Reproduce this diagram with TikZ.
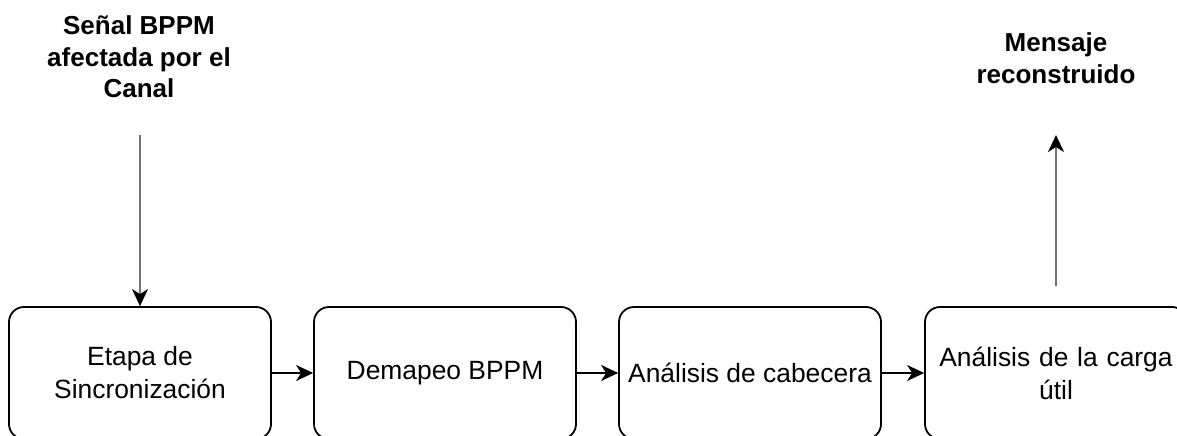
\documentclass[tikz,border=0pt]{standalone}
\usepackage{fontspec}
\setmainfont{Liberation Sans}
\usetikzlibrary{arrows.meta}
\begin{document}
\begin{tikzpicture}[x=1pt,y=-1pt,
  stage/.style={draw=black, line width=1.8pt, rounded corners=15pt,
    minimum width=262pt, minimum height=132pt, inner sep=0pt,
    align=center, font=\fontsize{26.4}{33}\selectfont},
  title/.style={align=center, font=\fontsize{26}{31.5}\selectfont\bfseries},
  tip/.style={-{Stealth[length=17pt,width=16pt,inset=5pt,#1]}},
  flow/.style={line width=1.8pt, tip=black},
  io/.style={line width=1.8pt, draw=black!55, tip=black}
]
\useasboundingbox (0,0) rectangle (1177,436);
\clip (0,0) rectangle (1177,436);
\fill[white] (0,0) rectangle (1177,436);

% processing stages
\node[stage] (sync) at (140,373) {Etapa de\\Sincronización};
\node[stage] (demap) at (445,373) {Demapeo BPPM};
\node[stage] (head) at (750,373) {Análisis de cabecera};
\node[stage, text width=240pt] (load) at (1056,373) {Análisis de la carga\\útil};

% input and output labels
\node[title] (inlabel) at (139,57) {Señal BPPM\\afectada por el\\Canal};
\node[title] (outlabel) at (1056,58) {Mensaje\\reconstruido};

\coordinate (instart) at (140,135);
\coordinate (outend) at (1056,135);
\coordinate (outstart) at (1056,286);

% connectors
\draw[io] (instart) -- (sync.north);
\draw[flow] (sync.east) -- (demap.west);
\draw[flow] (demap.east) -- (head.west);
\draw[flow] (head.east) -- (load.west);
\draw[io] (outstart) -- (outend);
\end{tikzpicture}
\end{document}
